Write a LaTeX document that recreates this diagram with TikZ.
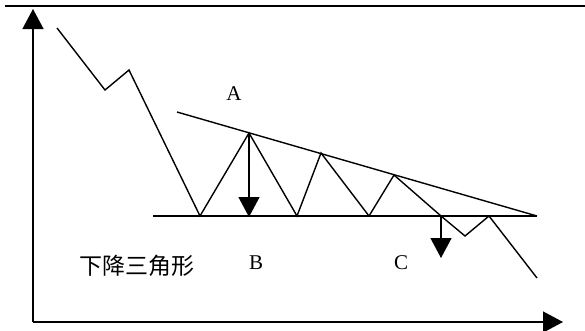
\documentclass[tikz,border=0pt]{standalone}
\usepackage{fontspec}
\setmainfont{Liberation Serif}
\newfontfamily\cjk{Noto Sans CJK SC}
\usepackage{tikz}
\usetikzlibrary{arrows.meta}

\tikzset{
  line/.style={line width=1.4pt},
  bigtip/.style={-{Triangle[length=20pt,width=21pt]}},
  smalltip/.style={-{Triangle[length=20pt,width=21pt]}},
  letter/.style={font=\fontsize{21}{21}\selectfont},
}

\begin{document}
\begin{tikzpicture}[x=1pt,y=-1pt]
  \useasboundingbox (0,0) rectangle (585,330);

  % frame line at top
  \coordinate (t1) at (5,6);
  \coordinate (t2) at (562,6);
  \coordinate (t3) at (585,6);
  \draw[line width=1.2pt] (t1) -- (t2);
  \draw[line width=2.6pt] (t2) -- (t3);

  % axes
  \coordinate (origin) at (33,322);
  \coordinate (ytop) at (33,9);
  \coordinate (xend) at (563,322);
  \draw[line, bigtip] (origin) -- (ytop);
  \draw[line, bigtip] (origin) -- (xend);

  % price path
  \coordinate (p0) at (57,28);
  \coordinate (p1) at (105,90);
  \coordinate (p2) at (129,70);
  \coordinate (p3) at (200,216);
  \coordinate (p4) at (249,133);
  \coordinate (p5) at (297,216);
  \coordinate (p6) at (321,153);
  \coordinate (p7) at (369,216);
  \coordinate (p8) at (394,175);
  \coordinate (p9) at (441,216);
  \coordinate (p10) at (465,236);
  \coordinate (p11) at (489,216);
  \coordinate (p12) at (537,278);
  \draw[line] (p0) -- (p1) -- (p2) -- (p3) -- (p4) -- (p5) -- (p6)
    -- (p7) -- (p8) -- (p9) -- (p10) -- (p11) -- (p12);

  % trend lines
  \coordinate (u1) at (177,112);
  \coordinate (u2) at (537,216);
  \coordinate (l1) at (153,216);
  \coordinate (l2) at (537,216);
  \draw[line] (u1) -- (u2);
  \draw[line] (l1) -- (l2);

  % measured moves
  \coordinate (bEnd) at (249,217);
  \coordinate (cEnd) at (441,258);
  \draw[line, smalltip] (p4) -- (bEnd);
  \draw[line, smalltip] (p9) -- (cEnd);

  \node[letter] (A) at (234,94) {A};
  \node[letter] (B) at (256,263) {B};
  \node[letter] (C) at (401,263) {C};
  \node[font=\cjk\fontsize{23}{23}\selectfont] (title) at (137,266) {下降三角形};
\end{tikzpicture}
\end{document}
